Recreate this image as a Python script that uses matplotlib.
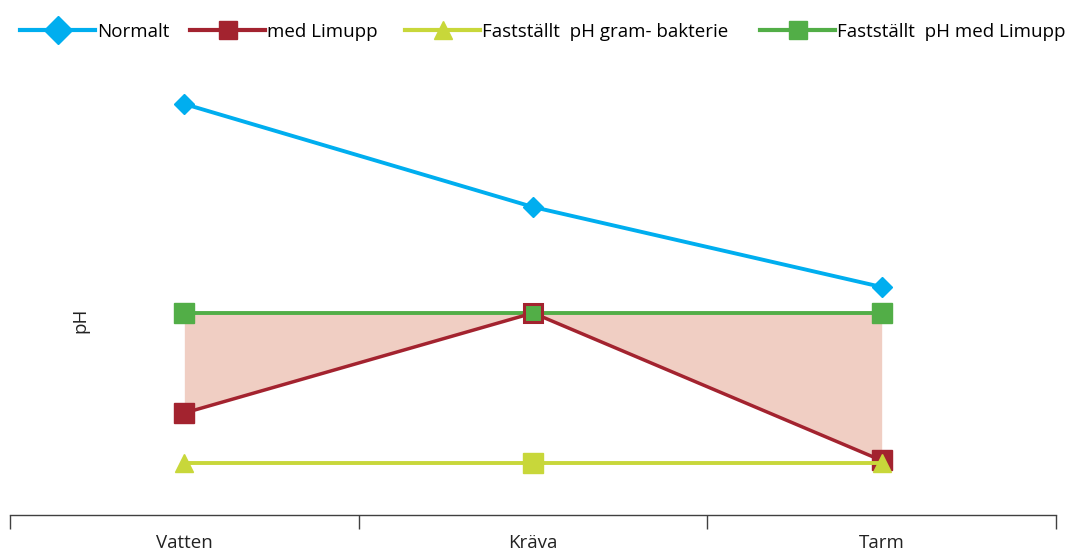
import matplotlib
matplotlib.use("Agg")
import matplotlib.pyplot as plt
from matplotlib.lines import Line2D

plt.rcParams['font.family'] = ['Open Sans', 'DejaVu Sans']

categories = ["Vatten", "Kräva", "Tarm"]
normalt = [11.18, 9.12, 7.52]
med_limupp = [5.0, 7.0, 4.05]
gram_bakterie = [4.0, 4.0, 4.0]
ph_med_limupp = [7.0, 7.0, 7.0]
labels = ["Normalt", "med Limupp", "Fastställt  pH gram- bakterie", "Fastställt  pH med Limupp"]

c_blue = "#00AEEF"
c_red = "#A3232F"
c_yg = "#C8D73A"
c_green = "#52AE47"
c_fill = "#F0CEC3"

W, H = 1068, 552
fig = plt.figure(figsize=(W / 100, H / 100), dpi=100)
ax_top, ax_bot = 60, 515
ax = fig.add_axes([10 / W, (H - ax_bot) / H, (1056 - 10) / W, (ax_bot - ax_top) / H])

x = list(range(len(categories)))

ax.fill_between(x, ph_med_limupp, med_limupp, color=c_fill, lw=0, zorder=1)

ax.plot(x, ph_med_limupp, color=c_green, lw=2.8, marker='s', ms=15,
        markevery=[0, 2], mec=c_green, zorder=3)
ax.plot(x, med_limupp, color=c_red, lw=2.5, marker='s', ms=14,
        markevery=[0, 2], mec=c_red, zorder=4)
ax.plot([x[1]], [med_limupp[1]], marker='s', ms=13, mfc=c_green, mec=c_red,
        mew=2.2, ls='none', zorder=5)
ax.plot(x, gram_bakterie, color=c_yg, lw=2.8, marker='^', ms=13,
        markevery=[0, 2], mec=c_yg, zorder=6)
ax.plot([x[1]], [gram_bakterie[1]], marker='s', ms=14, color=c_yg, ls='none', zorder=6)
ax.plot(x, normalt, color=c_blue, lw=2.8, marker='D', ms=10.5, mec=c_blue, zorder=7)

ax.set_xlim(-0.5, 2.5)
ax.set_ylim(7 - (ax_bot - 313) / 50, 7 + (313 - ax_top) / 50)

for s in ['top', 'right', 'left']:
    ax.spines[s].set_visible(False)
ax.spines['bottom'].set_color('#404040')
ax.spines['bottom'].set_linewidth(1.0)
ax.set_yticks([])
ax.set_xticks([-0.5, 0.5, 1.5, 2.5])
ax.set_xticklabels([])
ax.tick_params(axis='x', length=10, width=1.0, color='#404040', direction='out')
ax.set_xticks(x, minor=True)
ax.set_xticklabels(categories, minor=True, fontsize=13.5, color='#222222')
ax.tick_params(axis='x', which='minor', length=0, pad=14)

fig.text(80 / W, 1 - 320 / H, "pH", rotation=90, ha='center', va='center',
         fontsize=13.5, color='#222222')

handles = [
    Line2D([], [], color=c_blue, lw=3.0, marker='D', ms=14),
    Line2D([], [], color=c_red, lw=3.0, marker='s', ms=13),
    Line2D([], [], color=c_yg, lw=3.0, marker='^', ms=13),
    Line2D([], [], color=c_green, lw=3.0, marker='s', ms=13),
]
starts = [20, 190, 405, 760]
for h, lab, sx in zip(handles, labels, starts):
    fig.legend([h], [lab], loc='center left', bbox_to_anchor=(sx / W, 1 - 32 / H),
               frameon=False, fontsize=13.5, handlelength=4.0, handletextpad=0.1,
               borderaxespad=0, borderpad=0)

fig.savefig("out.png", dpi=100)
